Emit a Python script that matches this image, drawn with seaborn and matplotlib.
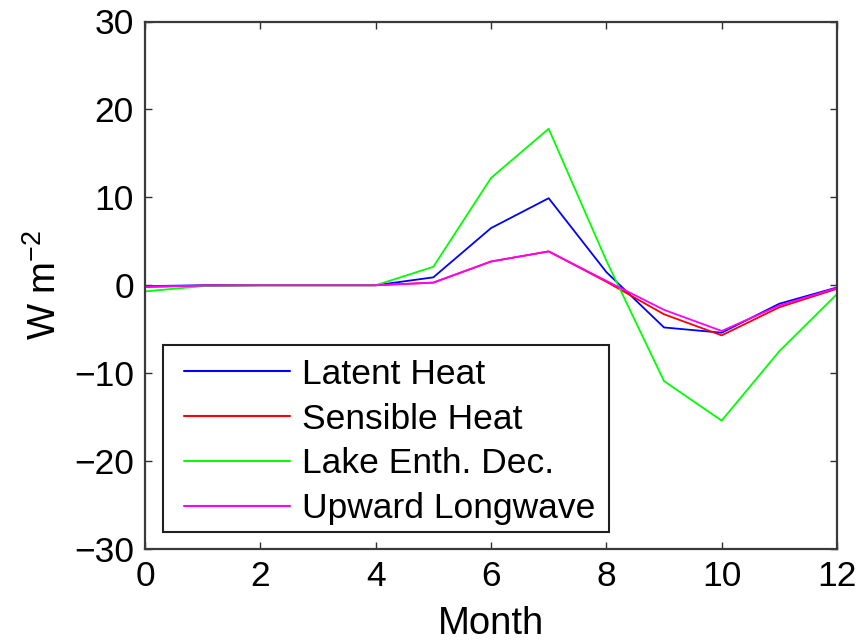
import numpy as np
import pandas as pd
import matplotlib
matplotlib.use("Agg")
import matplotlib.pyplot as plt
from matplotlib.patches import Rectangle
import seaborn as sns

# Monthly surface energy flux anomalies (W m^-2)
months = [0, 1, 2, 3, 4, 5, 6, 7, 8, 9, 10, 11, 12]
latent_heat = [-0.1, 0.0, 0.0, 0.0, 0.0, 0.9, 6.5, 9.9, 1.5, -4.8, -5.4, -2.1, -0.25]
sensible_heat = [-0.2, -0.05, 0.0, 0.0, 0.0, 0.3, 2.7, 3.85, 0.4, -3.3, -5.7, -2.5, -0.4]
lake_enthalpy = [-0.7, -0.1, 0.0, 0.0, 0.0, 2.1, 12.2, 17.8, 2.8, -10.9, -15.4, -7.5, -1.0]
upward_longwave = [-0.15, -0.05, 0.0, 0.0, 0.0, 0.3, 2.7, 3.85, 0.5, -2.8, -5.2, -2.3, -0.3]

series_names = ["Latent Heat", "Sensible Heat", "Lake Enth. Dec.", "Upward Longwave"]
series_values = [latent_heat, sensible_heat, lake_enthalpy, upward_longwave]
series_colors = ["#0000ff", "#ff0000", "#00ff00", "#ff00ff"]

x_ticks = [0, 2, 4, 6, 8, 10, 12]
y_ticks = [-30, -20, -10, 0, 10, 20, 30]

df = pd.concat(
    [pd.DataFrame({"Month": months, "value": vals, "series": name})
     for name, vals in zip(series_names, series_values)],
    ignore_index=True,
)

sns.set_style("ticks")
plt.rcParams["font.family"] = ["Liberation Sans", "DejaVu Sans"]
plt.rcParams["mathtext.default"] = "regular"
plt.rcParams["text.color"] = "black"
plt.rcParams["axes.labelcolor"] = "black"
plt.rcParams["xtick.labelcolor"] = "black"
plt.rcParams["ytick.labelcolor"] = "black"

fig = plt.figure(figsize=(8.59, 6.44), dpi=100)
ax = fig.add_axes([145 / 859, (644 - 549) / 644, 692 / 859, 527.5 / 644])

sns.lineplot(
    data=df, x="Month", y="value", hue="series",
    hue_order=series_names, palette=series_colors,
    linewidth=1.3, ax=ax, legend=True,
)

ax.set_xlim(0, 12)
ax.set_ylim(-30, 30)
ax.set_xticks(x_ticks)
ax.set_yticks(y_ticks)

tick_fs = 25.5
ax.tick_params(axis="both", which="major", direction="in", length=5, width=1.0,
               labelsize=tick_fs, pad=8, color="#303030",
               labelcolor="black", top=True, right=True)
for spine in ax.spines.values():
    spine.set_visible(True)
    spine.set_linewidth(1.6)
    spine.set_color("#3a3a3a")

ax.set_xlabel("Month", fontsize=27.5, labelpad=9, color="black")
ax.set_ylabel("W m$^{-2}$", fontsize=27.5, labelpad=7, color="black")

# Legend: entries placed without frame, box drawn as a rectangle in axes coords
handles, labels = ax.get_legend_handles_labels()
leg = ax.legend(
    handles, labels, loc="center left",
    bbox_to_anchor=(0.0564, 0.204), frameon=False,
    fontsize=tick_fs, borderpad=0, borderaxespad=0,
    handlelength=3.0, handletextpad=0.32, labelspacing=0.33,
)
for line in leg.get_lines():
    line.set_linewidth(1.5)
for txt in leg.get_texts():
    txt.set_color("black")

ax.add_patch(Rectangle((0.0256, 0.032), 0.645, 0.3545, transform=ax.transAxes,
                       fill=True, facecolor="white", edgecolor="#202020",
                       linewidth=1.5, zorder=4))
leg.set_zorder(5)

fig.savefig("out.png", dpi=100)
